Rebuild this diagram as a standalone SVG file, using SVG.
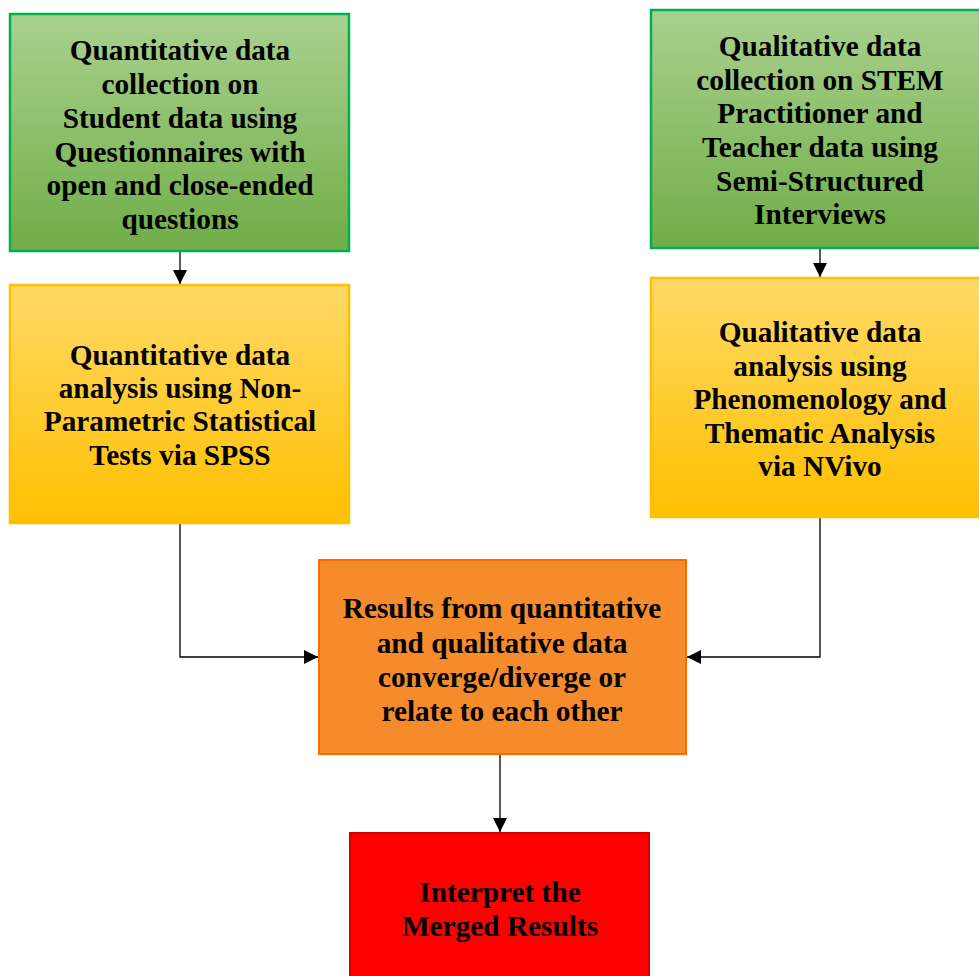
<svg xmlns="http://www.w3.org/2000/svg" width="979" height="976" viewBox="0 0 979 976">
<defs>
<linearGradient id="gGreen" x1="0" y1="0" x2="0" y2="1"><stop offset="0" stop-color="#A9D18E"/><stop offset="1" stop-color="#70AD47"/></linearGradient>
<linearGradient id="gYellow" x1="0" y1="0" x2="0" y2="1"><stop offset="0" stop-color="#FFD966"/><stop offset="1" stop-color="#FFC000"/></linearGradient>
<marker id="arr" viewBox="0 0 10 10" refX="10" refY="5" markerWidth="14" markerHeight="14" markerUnits="userSpaceOnUse" orient="auto"><path d="M0,0 L10,5 L0,10 Z" fill="#000"/></marker>
<style>
.t{font-family:"Liberation Serif","Times New Roman",serif;font-weight:bold;font-size:29.3px;fill:#000;text-anchor:middle}
.green{fill:url(#gGreen);stroke:#00B050;stroke-width:2.5}
.yellow{fill:url(#gYellow);stroke:#FFC000;stroke-width:2.5}
.c{fill:none;stroke:#000;stroke-width:1.3}
</style>
</defs>
<g id="connectors">
<path class="c" d="M180,251 V284" marker-end="url(#arr)"/>
<path class="c" d="M820,248 V277" marker-end="url(#arr)"/>
<path class="c" d="M180,523 V657 H318" marker-end="url(#arr)"/>
<path class="c" d="M820,517 V657 H687" marker-end="url(#arr)"/>
<path class="c" d="M500,754 V832" marker-end="url(#arr)"/>
</g>
<g id="n1">
<rect class="green" x="10" y="14" width="339" height="237"/>
<text class="t" x="180"><tspan x="180" y="60">Quantitative data</tspan><tspan x="180" y="94">collection on</tspan><tspan x="180" y="128">Student data using</tspan><tspan x="180" y="162">Questionnaires with</tspan><tspan x="180" y="195">open and close-ended</tspan><tspan x="180" y="229">questions</tspan></text>
</g>
<g id="n2">
<rect class="yellow" x="10" y="285" width="339" height="238"/>
<text class="t"><tspan x="180" y="365">Quantitative data</tspan><tspan x="180" y="398">analysis using Non-</tspan><tspan x="180" y="431">Parametric Statistical</tspan><tspan x="180" y="465">Tests via SPSS</tspan></text>
</g>
<g id="n3">
<rect class="green" x="651" y="10" width="339" height="238"/>
<text class="t"><tspan x="820" y="56">Qualitative data</tspan><tspan x="820" y="90">collection on STEM</tspan><tspan x="820" y="123">Practitioner and</tspan><tspan x="820" y="157">Teacher data using</tspan><tspan x="820" y="191">Semi-Structured</tspan><tspan x="820" y="224">Interviews</tspan></text>
</g>
<g id="n4">
<rect class="yellow" x="651" y="278" width="339" height="239"/>
<text class="t"><tspan x="820" y="342">Qualitative data</tspan><tspan x="820" y="376">analysis using</tspan><tspan x="820" y="409">Phenomenology and</tspan><tspan x="820" y="443">Thematic Analysis</tspan><tspan x="820" y="476">via NVivo</tspan></text>
</g>
<g id="n5">
<rect x="319" y="560" width="367" height="194" fill="#F68B2B" stroke="#FF6A00" stroke-width="2"/>
<text class="t"><tspan x="502" y="618">Results from quantitative</tspan><tspan x="502" y="653">and qualitative data</tspan><tspan x="502" y="687">converge/diverge or</tspan><tspan x="502" y="721">relate to each other</tspan></text>
</g>
<g id="n6">
<rect x="350" y="833" width="299" height="160" fill="#FF0000" stroke="#D40000" stroke-width="2"/>
<text class="t"><tspan x="500" y="902">Interpret the</tspan><tspan x="500" y="936">Merged Results</tspan></text>
</g>
</svg>
